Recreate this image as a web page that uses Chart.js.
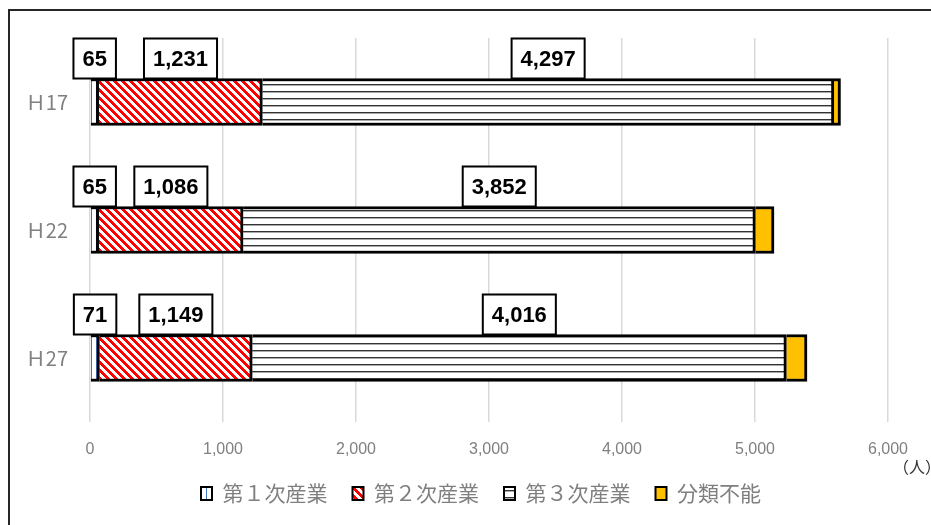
<!DOCTYPE html>
<html>
<head>
<meta charset="utf-8">
<script src="https://cdn.jsdelivr.net/npm/chart.js@4.4.1/dist/chart.umd.min.js"></script>
<style>
  html, body { margin: 0; padding: 0; background: #fff; overflow: hidden; }
  #wrap { position: relative; width: 931px; height: 525px; }
  #frame { position: absolute; left: 8px; top: 9px; width: 1000px; height: 600px; border: 2px solid #262626; box-sizing: border-box; }
  canvas { position: absolute; left: 0; top: 0; }
</style>
</head>
<body>
<div id="wrap">
  <div id="frame"></div>
  <canvas id="chart" width="931" height="525"></canvas>
</div>
<script>
// data
const years = ['Ｈ17', 'Ｈ22', 'Ｈ27'];
const seriesNames = ['第１次産業', '第２次産業', '第３次産業', '分類不能'];
const primary = [65, 65, 71];
const secondary = [1231, 1086, 1149];
const tertiary = [4297, 3852, 4016];
const unclassified = [50, 140, 155];
const xMax = 6000;
const xStep = 1000;
const unitLabel = '（人）';

const canvas = document.getElementById('chart');
const ctx = canvas.getContext('2d');

// small fill patterns like the Excel ones
function makePattern(w, h, paint) {
  const c = document.createElement('canvas');
  c.width = w;
  c.height = h;
  const g = c.getContext('2d');
  g.fillStyle = '#fff';
  g.fillRect(0, 0, w, h);
  paint(g, w, h);
  return ctx.createPattern(c, 'repeat');
}

const bluePattern = makePattern(5, 5, (g, w, h) => {
  g.fillStyle = '#4472c4';
  g.fillRect(1, 0, 1, h);
});
const redPattern = makePattern(8, 8, (g, w, h) => {
  g.fillStyle = '#ff0000';
  for (let y = 0; y < h; y++) {
    for (let x = 0; x < w; x++) {
      if (((x - y + 8) % 8) < 4) g.fillRect(x, y, 1, 1);
    }
  }
});
const linePattern = makePattern(8, 7, (g, w, h) => {
  g.fillStyle = '#333';
  g.fillRect(0, 0, w, 1);
  g.fillStyle = '#aaa';
  g.fillRect(0, 1, w, 1);
});

// boxed value labels above the first three segments, plus the unit text
const boxLabels = {
  id: 'boxLabels',
  afterLayout(chart) {
    // nudge the legend a little to the left, as in the original
    chart.legend.left -= 8;
    chart.legend.right -= 8;
  },
  afterDatasetsDraw(chart) {
    const c = chart.ctx;
    c.save();
    c.font = 'bold 22px "Liberation Sans", Arial, sans-serif';
    c.textAlign = 'center';
    c.textBaseline = 'middle';
    chart.data.datasets.forEach((ds, di) => {
      if (di > 2) return;
      chart.getDatasetMeta(di).data.forEach((bar, i) => {
        const text = ds.data[i].toLocaleString('en-US');
        const cx = (bar.x + bar.base) / 2;
        const w = c.measureText(text).width + 18;
        const h = 40;
        const top = bar.y - bar.height / 2 - h;
        c.fillStyle = '#fff';
        c.fillRect(cx - w / 2, top, w, h);
        c.lineWidth = 2;
        c.strokeStyle = '#000';
        c.strokeRect(cx - w / 2, top, w, h);
        c.fillStyle = '#000';
        c.fillText(text, cx, top + h / 2 + 1);
      });
    });
    const area = chart.chartArea;
    c.font = '16px "Noto Sans CJK JP", sans-serif';
    c.textAlign = 'left';
    c.fillStyle = '#333';
    c.fillText(unitLabel, area.right + 5, area.bottom + 45);
    c.restore();
  }
};

new Chart(ctx, {
  type: 'bar',
  data: {
    labels: years,
    datasets: [
      { label: seriesNames[0], data: primary, backgroundColor: bluePattern },
      { label: seriesNames[1], data: secondary, backgroundColor: redPattern },
      { label: seriesNames[2], data: tertiary, backgroundColor: linePattern },
      { label: seriesNames[3], data: unclassified, backgroundColor: '#ffc000' }
    ]
  },
  options: {
    indexAxis: 'y',
    responsive: false,
    animation: false,
    datasets: {
      bar: {
        borderColor: '#000',
        borderWidth: 3,
        borderSkipped: 'left',
        barThickness: 47
      }
    },
    layout: { padding: { top: 38, left: 0, right: 43, bottom: 11 } },
    scales: {
      x: {
        stacked: true,
        min: 0,
        max: xMax,
        border: { display: false },
        grid: { color: '#d9d9d9', lineWidth: 1.5, drawTicks: false },
        ticks: {
          stepSize: xStep,
          padding: 18,
          color: '#808080',
          font: { family: '"Liberation Sans Narrow", "Liberation Sans", Arial, sans-serif', size: 16 },
          callback: v => v.toLocaleString('en-US')
        },
        afterFit: s => { s.height = 36; }
      },
      y: {
        stacked: true,
        border: { display: false },
        grid: { display: false, drawTicks: false },
        ticks: {
          padding: 22,
          color: '#808080',
          font: { family: '"Noto Sans CJK JP", sans-serif', size: 20 }
        },
        afterFit: s => { s.width = 90; }
      }
    },
    plugins: {
      tooltip: { enabled: false },
      legend: {
        position: 'bottom',
        fullSize: false,
        labels: {
          boxWidth: 11,
          boxHeight: 13,
          padding: 25,
          color: '#7f7f7f',
          font: { family: '"Noto Sans CJK JP", sans-serif', size: 21 },
          generateLabels: chart => {
            const items = Chart.defaults.plugins.legend.labels.generateLabels(chart);
            items.forEach(it => {
              it.lineWidth = 2;
              it.strokeStyle = '#000';
            });
            return items;
          }
        }
      }
    }
  },
  plugins: [boxLabels]
});
</script>
</body>
</html>
